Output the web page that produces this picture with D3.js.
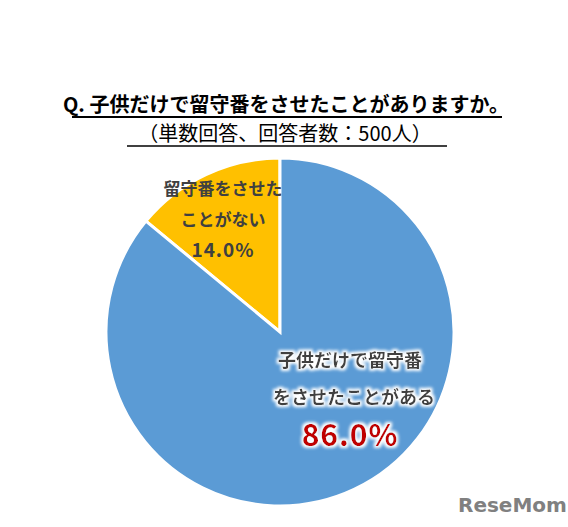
<!DOCTYPE html>
<html>
<head>
<meta charset="utf-8">
<script src="https://cdn.jsdelivr.net/npm/d3@7"></script>
<style>
body{margin:0;background:#fff;}
text{font-family:"Noto Sans CJK JP","Noto Sans",sans-serif;}
</style>
</head>
<body>
<div></div>
<script>
var labels = ["留守番をさせたことがない", "子供だけで留守番をさせたことがある"];
var values = [14.0, 86.0];
var colors = ["#FFC000", "#5B9BD5"];

var svg = d3.select("div")
.append("svg")
.attr("width",568)
.attr("height",527)

// title
svg.append("text")
.attr("x",286).attr("y",112)
.attr("text-anchor","middle")
.style("font-size","20px").style("font-weight","bold").style("fill","#000")
.text("Q. 子供だけで留守番をさせたことがありますか。")
svg.append("line").attr("x1",72).attr("x2",502).attr("y1",117).attr("y2",117)
.style("stroke","#000").style("stroke-width",2)

svg.append("text")
.attr("x",285).attr("y",141)
.attr("text-anchor","middle")
.style("font-size","20px").style("fill","#000")
.text("（単数回答、回答者数：500人）")
svg.append("line").attr("x1",127).attr("x2",447).attr("y1",146).attr("y2",146)
.style("stroke","#000").style("stroke-width",1.5)

var pie = d3.pie().sort(null).value(function(d){return d;})
.startAngle(-values[0]/100*2*Math.PI)
.endAngle(2*Math.PI - values[0]/100*2*Math.PI)
var arc = d3.arc().innerRadius(0).outerRadius(174)

var g = svg.append("g").attr("transform","translate(280,332)")

g.selectAll("path")
.data(pie(values))
.enter()
.append("path")
.attr("d",arc)
.style("fill",function(d,i){return colors[i];})
.style("stroke","#fff")
.style("stroke-width",3)

var defs = svg.append("defs")
var f = defs.append("filter").attr("id","glow").attr("x","-20%").attr("y","-40%").attr("width","140%").attr("height","180%")
f.append("feMorphology").attr("in","SourceAlpha").attr("operator","dilate").attr("radius",1.5).attr("result","d")
f.append("feGaussianBlur").attr("in","d").attr("stdDeviation",1.5).attr("result","b")
f.append("feFlood").attr("flood-color","#fff")
f.append("feComposite").attr("in2","b").attr("operator","in").attr("result","w")
var m = f.append("feMerge")
m.append("feMergeNode").attr("in","w")
m.append("feMergeNode").attr("in","SourceGraphic")

// yellow label
var yl = ["留守番をさせた","ことがない", d3.format(".1f")(values[0])+"%"]
svg.selectAll(".yl").data(yl).enter().append("text")
.attr("x",223).attr("y",function(d,i){return 195+i*31;})
.attr("text-anchor","middle")
.style("font-size",function(d,i){return i==2?"19px":"17px";})
.style("font-weight","bold").style("fill","#404040")
.style("letter-spacing",function(d,i){return i==2?"1px":"0px";})
.text(function(d){return d;})

// blue label
var bl = ["子供だけで留守番","をさせたことがある"]
svg.selectAll(".bl").data(bl).enter().append("text")
.attr("x",function(d,i){return i==0?350:354;}).attr("y",function(d,i){return 367+i*37;})
.attr("text-anchor","middle")
.attr("filter","url(#glow)")
.style("font-size","18px").style("font-weight","bold").style("fill","#404040")
.text(function(d){return d;})

svg.append("text")
.attr("x",350).attr("y",446)
.attr("text-anchor","middle")
.attr("filter","url(#glow)")
.style("font-size","30px").style("font-weight","bold").style("fill","#C00000")
.style("letter-spacing","1px")
.text(d3.format(".1f")(values[1])+"%")

// logo
svg.append("text")
.attr("x",458).attr("y",512)
.style("font-size","20px").style("font-weight","bold").style("fill","#808080")
.style("font-family","'DejaVu Sans',sans-serif")
.text("ReseMom")
</script>
</body>
</html>
